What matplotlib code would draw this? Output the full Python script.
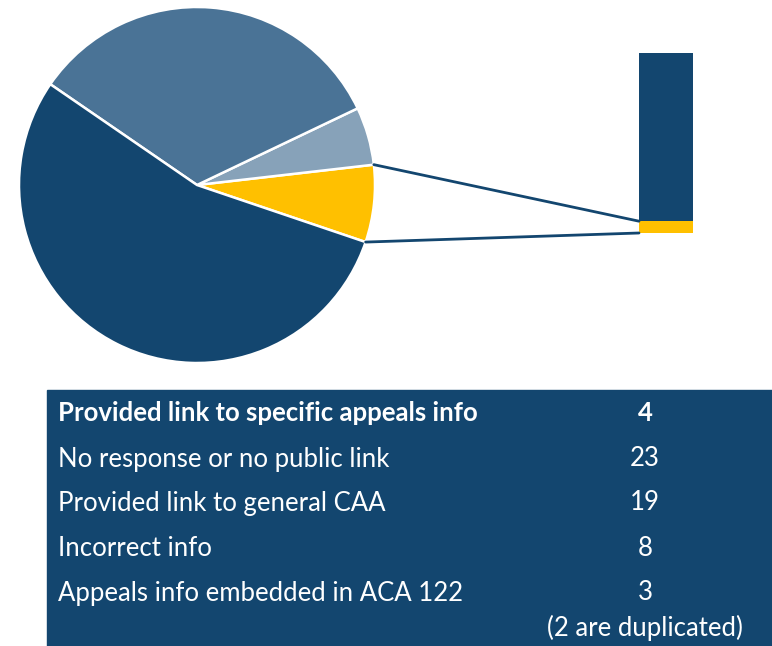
import matplotlib
matplotlib.use("Agg")
import matplotlib.pyplot as plt
from matplotlib.patches import Rectangle, ConnectionPatch
import numpy as np

# pie slices (counter-clockwise from the yellow one)
pie_vals = [4, 3, 19, 31]
pie_cols = ["#FFC000", "#87A2B9", "#4A7396", "#13466F"]

# bar on the right: yellow part at bottom, navy on top
bar_vals = [4, 57]
bar_cols = ["#FFC000", "#13466F"]

labels = ["Provided link to specific appeals info",
          "No response or no public link",
          "Provided link to general CAA",
          "Incorrect info",
          "Appeals info embedded in ACA 122"]
counts = ["4", "23", "19", "8", "3"]
note = "(2 are duplicated)"

W, H = 772, 646
fig = plt.figure(figsize=(W / 100, H / 100), dpi=100)

def px_axes(x0, y0, x1, y1):
    return fig.add_axes([x0 / W, 1 - y1 / H, (x1 - x0) / W, (y1 - y0) / H])

# pie
ax = px_axes(19, 7, 375, 363)
start = -18.7
wedges, _ = ax.pie(pie_vals, colors=pie_cols, startangle=start, counterclock=True,
                   wedgeprops=dict(edgecolor="white", linewidth=1.8))
ax.set_xlim(-1, 1)
ax.set_ylim(-1, 1)
ax.set_aspect("equal")
ax.axis("off")

# bar
bx = px_axes(639, 53, 693, 233)
bottom = 0
for v, c in zip(bar_vals, bar_cols):
    bx.bar(0, v, width=1, bottom=bottom, color=c)
    bottom += v
bx.set_xlim(-0.5, 0.5)
bx.set_ylim(0, sum(bar_vals))
bx.axis("off")

# connectors from yellow slice to yellow bar part
th1 = np.deg2rad(wedges[0].theta2)
th0 = np.deg2rad(wedges[0].theta1)
for th, yb in [(th1, bar_vals[0]), (th0, 0)]:
    con = ConnectionPatch(xyA=(np.cos(th), np.sin(th)), coordsA=ax.transData,
                          xyB=(-0.5, yb), coordsB=bx.transData,
                          color="#13466F", linewidth=2)
    fig.add_artist(con)

# table box
fig.add_artist(Rectangle((47 / W, 0), (W - 47) / W, (H - 390) / H,
                         transform=fig.transFigure, color="#13466F", zorder=0))
fs = 18.5
ys = [413, 459, 503, 548, 593]
for i, (lab, n) in enumerate(zip(labels, counts)):
    fw = "bold" if i == 0 else "normal"
    fig.text(58 / W, 1 - ys[i] / H, lab, color="white", fontsize=fs,
             fontweight=fw, family="Lato", va="center", ha="left")
    fig.text(645 / W, 1 - ys[i] / H, n, color="white", fontsize=fs,
             fontweight=fw, family="Lato", va="center", ha="center")
fig.text(645 / W, 1 - 628 / H, note, color="white", fontsize=fs,
         family="Lato", va="center", ha="center")

fig.savefig("out.png", dpi=100)
